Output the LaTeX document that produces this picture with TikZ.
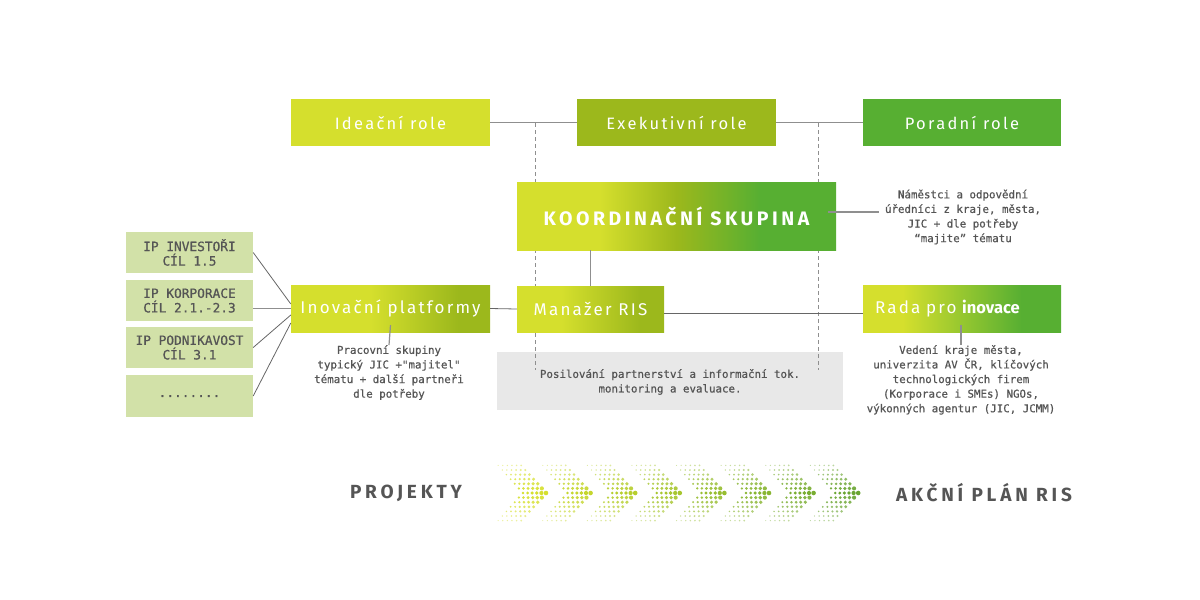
\documentclass[tikz,border=0pt]{standalone}
\usepackage{fontspec}
\setmainfont{Fira Sans}
\newfontfamily\monof[FakeBold=0.7]{DejaVu Sans Mono}
\newfontfamily\rolef[LetterSpace=14]{Fira Sans}
\newfontfamily\rowf[LetterSpace=13]{Fira Sans}
\newfontfamily\ksf[LetterSpace=18]{Fira Sans}
\newfontfamily\titlebf[LetterSpace=20]{Fira Sans}
\usetikzlibrary{calc}
\definecolor{cY}{HTML}{D5DF2D}
\definecolor{cO}{HTML}{9CB81C}
\definecolor{cG}{HTML}{57AF32}
\definecolor{cD}{HTML}{6AA532}
\definecolor{cL}{HTML}{D2E1A8}
\definecolor{cGr}{HTML}{E8E8E8}
\definecolor{tx}{HTML}{555555}
\definecolor{ln}{HTML}{8F8F8F}
\definecolor{lnd}{HTML}{666666}
\pgfdeclarehorizontalshading{ksshade}{100bp}{color(0bp)=(cY); color(38bp)=(cY); color(50bp)=(cO); color(63bp)=(cG); color(100bp)=(cG)}
\pgfdeclarehorizontalshading{inshade}{100bp}{color(0bp)=(cY); color(45bp)=(cY); color(67bp)=(cO); color(100bp)=(cO)}
\pgfdeclarehorizontalshading{mashade}{100bp}{color(0bp)=(cY); color(40bp)=(cY); color(67bp)=(cO); color(100bp)=(cO)}
\pgfdeclarehorizontalshading{rashade}{100bp}{color(0bp)=(cY); color(35bp)=(cY); color(65bp)=(cG); color(100bp)=(cG)}
\tikzset{
  rolebox/.style={minimum height=47, inner sep=0, text=white, font=\rolef\fontsize{16.5}{18}\selectfont},
  rowbox/.style={minimum height=47, inner sep=0, text=white, font=\rowf\fontsize{17}{19}\selectfont},
  leftbox/.style={fill=cL, minimum width=127, minimum height=41, inner sep=0, text=tx, align=center, font=\monof\fontsize{12.8}{14.5}\selectfont},
  smalltext/.style={text=tx, align=center, inner sep=0, font=\monof\fontsize{10.8}{14.6}\selectfont},
  conn/.style={draw=ln, line width=1.2},
  thin conn/.style={draw=lnd, line width=0.8},
  dashconn/.style={draw=ln, line width=0.9, dash pattern=on 4 off 3},
  bigtitle/.style={text=tx, inner sep=0, font=\titlebf\bfseries\fontsize{19}{21}\selectfont}
}
\begin{document}
\begin{tikzpicture}[x=1pt,y=-1pt]
\useasboundingbox (0,0) rectangle (1200,600);
% top row
\node[rolebox, fill=cY, minimum width=199] (ide) at (390.5,122.5) {Ideační role};
\node[rolebox, fill=cO, minimum width=199] (exe) at (676.5,122.5) {Exekutivní role};
\node[rolebox, fill=cG, minimum width=198] (por) at (962,122.5) {Poradní role};
\draw[conn] (ide.east) -- (exe.west);
\draw[conn] (exe.east) -- (por.west);
\coordinate (d1top) at (535,123);
\coordinate (d1bot) at (535,370);
\coordinate (d2top) at (818,123);
\coordinate (d2bot) at (818,370);
% grey box
\node[fill=cGr, minimum width=346, minimum height=58, inner sep=0] (grey) at (670,381) {};
\node[smalltext] (greytext) at (670,382) {Posilování partnerství a informační tok.\\monitoring a evaluace.};
\draw[dashconn] (d1top) -- (d1bot);
\draw[dashconn] (d2top) -- (d2bot);
% koordinacni skupina
\node[shading=ksshade, minimum width=319, minimum height=68, inner sep=0, text=white, font=\ksf\bfseries\fontsize{19.5}{21}\selectfont] (ks) at (676.5,216) {KOORDINAČNÍ SKUPINA};
\node[smalltext] (kstext) at (963,217) {Náměstci a odpovědní\\úředníci z kraje, města,\\JIC + dle potřeby\\“majite” tématu};
\draw[conn] ([yshift=4pt,xshift=-8pt]ks.east) -- ([yshift=4pt,xshift=-6pt]ks.east -| kstext.west);
% second row
\node[rowbox, shading=mashade, minimum width=147, minimum height=46] (man) at (590.5,309) {Manažer RIS};
\node[rowbox, shading=inshade, minimum width=199] (ino) at (390.5,308.5) {Inovační platformy};
\node[rowbox, shading=rashade, minimum width=198, text width=174, inner xsep=12, align=left] (rada) at (962,308.5) {Rada pro {\normalfont\bfseries\fontsize{16.5}{19}\selectfont inovace}};
\draw[conn] (man.north |- ks.south) -- (man.north);
\draw[thin conn] (ino.east) -- (man.west);
\draw[thin conn] ([yshift=-4pt]man.east) -- ([yshift=-4pt]man.east -| rada.west);
\node[smalltext, anchor=north] (inotext) at (389,345) {Pracovní skupiny\\typický JIC +"majitel"\\tématu + další partneři\\dle potřeby};
\node[smalltext, anchor=north] (radatext) at (961,345) {Vedení kraje města,\\univerzita AV ČR, klíčových\\technologických firem\\(Korporace i SMEs) NGOs,\\výkonných agentur (JIC, JCMM)};
\draw[conn] ([yshift=7pt]ino.south) -- (inotext.north);
\draw[conn] ([yshift=7pt]rada.south -| radatext.north) -- (radatext.north);
% left boxes
\node[leftbox] (lb1) at (189.5,252.5) {IP INVESTOŘI\\CÍL 1.5};
\node[leftbox] (lb2) at (189.5,300.5) {IP KORPORACE\\CÍL 2.1.-2.3};
\node[leftbox] (lb3) at (189.5,347.5) {IP PODNIKAVOST\\CÍL 3.1};
\node[leftbox, minimum height=42] (lb4) at (189.5,396) {........};
\draw[thin conn] (lb1.east) -- ([yshift=4.5pt]ino.west);
\draw[conn] (lb2.east |- ino.west) -- (ino.west);
\draw[thin conn] (lb3.east) -- ([yshift=-6.5pt]ino.west);
\draw[thin conn] (lb4.east) -- ([yshift=-14.5pt]ino.west);
% bottom
\node[bigtitle] (proj) at (406,493) {PROJEKTY};
\node[bigtitle] (akce) at (984,493) {AKČNÍ PLÁN RIS};
\foreach \i in {0,...,7}{
  \pgfmathsetmacro\T{546+44.6*\i}
  \pgfmathtruncatemacro\pct{100-100*\i/7}
  \colorlet{chc}{cY!\pct!cD}
  \foreach \j in {-6,...,6}{
    \pgfmathsetmacro\ady{abs(\j)}
    \pgfmathsetmacro\op{1-0.09*\ady}
    \foreach \m in {0,...,5}{
      \pgfmathsetmacro\r{(2.3-0.22*\ady)*(1-0.08*\m)}
      \pgfmathsetmacro\xx{\T-0.9*4.6*\ady-\m*4.6}
      \fill[chc, opacity=\op] (\xx,493+4.6*\j) circle (\r);
    }
  }
}
\end{tikzpicture}
\end{document}
